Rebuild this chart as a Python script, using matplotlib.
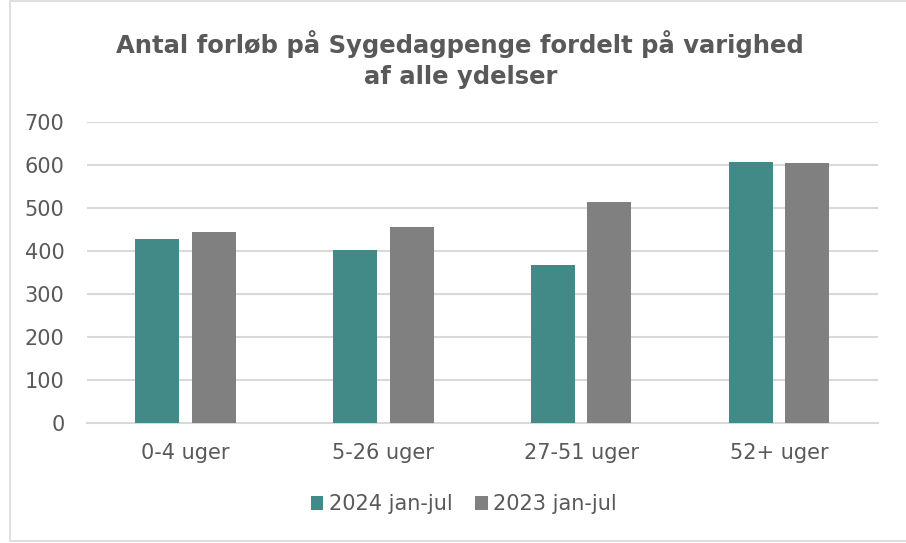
import matplotlib
matplotlib.use("Agg")
import matplotlib.pyplot as plt
import numpy as np
from matplotlib.patches import Rectangle

categories = ["0-4 uger", "5-26 uger", "27-51 uger", "52+ uger"]
series_names = ["2024 jan-jul", "2023 jan-jul"]
values_2024 = [428, 402, 368, 607]
values_2023 = [445, 457, 515, 605]
yticks = [0, 100, 200, 300, 400, 500, 600, 700]
title = "Antal forløb på Sygedagpenge fordelt på varighed\naf alle ydelser"

plt.rcParams['font.family'] = ['DejaVu Sans']

teal = "#418a87"
gray = "#808080"
textc = "#595959"
gridc = "#d9d9d9"

fig = plt.figure(figsize=(9.06, 5.43), dpi=100)
fig.patches.append(Rectangle((10/906, 0.003), 1.0, 0.995, transform=fig.transFigure,
                             fill=False, edgecolor="#d9d9d9", linewidth=1.2))
ax = fig.add_axes([0.0957, 0.2204, 0.8731, 0.5544])

x = np.arange(len(categories))
w = 0.222
off = 0.143
ax.bar(x - off, values_2024, w, color=teal, label=series_names[0], zorder=3)
ax.bar(x + off, values_2023, w, color=gray, label=series_names[1], zorder=3)

ax.set_xlim(-0.5, len(categories) - 0.5)
ax.set_ylim(0, 700)
ax.set_yticks(yticks)
ax.set_yticklabels([str(v) for v in yticks])
ax.set_xticks(x)
ax.set_xticklabels(categories)
ax.yaxis.grid(True, color=gridc, linewidth=1.5, zorder=0)
ax.set_axisbelow(True)
for s in ["top", "right", "left"]:
    ax.spines[s].set_visible(False)
ax.spines["bottom"].set_color(gridc)
ax.spines["bottom"].set_linewidth(1.5)
ax.tick_params(axis="both", length=0, colors=textc, labelsize=15)
ax.tick_params(axis="y", pad=16)
ax.tick_params(axis="x", pad=14)

fig.text(0.508, 0.945, title, ha="center", va="top", fontsize=17.5,
         fontweight="bold", color=textc, linespacing=1.4)

leg = fig.legend(loc="center", bbox_to_anchor=(0.512, 0.071), ncol=2, frameon=False,
                 fontsize=15, handlelength=0.6, handleheight=0.6, handletextpad=0.25,
                 columnspacing=1.1, labelcolor=textc)

fig.savefig("out.png", dpi=100)
